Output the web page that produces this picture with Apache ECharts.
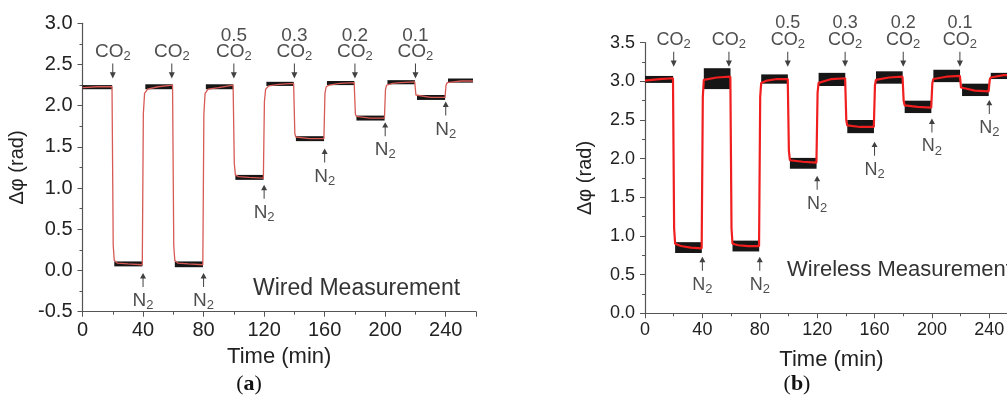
<!DOCTYPE html>
<html>
<head>
<meta charset="utf-8">
<script src="https://cdn.jsdelivr.net/npm/echarts@6/dist/echarts.min.js"></script>
<style>
  html, body { margin: 0; padding: 0; background: #fff; }
  #main { width: 1007px; height: 412px; }
</style>
</head>
<body>
<div id="main"></div>
<script>
// (a) wired measurement - smoothed (red) trace
var wiredTime  = [0, 10, 19.5, 20.3, 21, 23, 30, 39.5, 40.2, 41, 43, 50, 59.5, 60.3, 61, 63, 70, 79.5, 80.2, 81, 83, 90, 99.5,
                  100.3, 101, 103, 110, 119.5, 120.2, 121, 123, 130, 139.5, 140.3, 141, 150, 159.5, 160.2, 161, 163, 170, 179.5,
                  180.3, 181, 190, 199.5, 200.2, 201, 205, 210, 219.5, 220.3, 221, 230, 239.5, 240.2, 241, 250, 258];
var wiredPhase = [2.22, 2.23, 2.23, 0.3, 0.12, 0.09, 0.08, 0.07, 1.9, 2.15, 2.2, 2.23, 2.25, 0.3, 0.12, 0.09, 0.08, 0.07, 1.9, 2.15, 2.2, 2.22, 2.25,
                  1.3, 1.16, 1.14, 1.13, 1.12, 2.05, 2.2, 2.24, 2.26, 2.27, 1.66, 1.62, 1.6, 1.6, 2.15, 2.23, 2.25, 2.27, 2.28,
                  1.9, 1.87, 1.85, 1.85, 2.2, 2.25, 2.27, 2.28, 2.29, 2.13, 2.11, 2.1, 2.1, 2.25, 2.28, 2.3, 2.3];
// raw (black) noise envelope per plateau
var wiredBandStart = [0, 21, 41.5, 61, 81.5, 101, 121.5, 141, 161.5, 181, 201.5, 221, 241.5];
var wiredBandEnd   = [19.6, 39.6, 59.6, 79.6, 99.6, 119.6, 139.6, 159.6, 179.6, 199.6, 219.6, 239.6, 258];
var wiredBandLow   = [2.2, 0.05, 2.2, 0.04, 2.2, 1.1, 2.24, 1.57, 2.25, 1.82, 2.26, 2.07, 2.28];
var wiredBandHigh  = [2.25, 0.11, 2.26, 0.11, 2.26, 1.16, 2.29, 1.63, 2.3, 1.88, 2.31, 2.13, 2.33];
var wiredCo2Time  = [20, 59, 100, 140, 180, 220];
var wiredCo2Conc  = ['', '', '0.5', '0.3', '0.2', '0.1'];
var wiredCo2Tip   = [2.33, 2.33, 2.33, 2.33, 2.33, 2.33];
var wiredN2Time   = [40, 80, 120, 160, 200, 240];
var wiredN2Tip    = [-0.03, -0.03, 1.04, 1.48, 1.8, 2.05];

// (b) wireless measurement
var wirelessTime  = [0, 10, 19.5, 20.3, 21, 25, 32, 39.5, 40.3, 41, 50, 59.5, 60.3, 61, 65, 72, 79.5, 80.3, 81, 85, 92, 99.5,
                     100.3, 101, 110, 119.5, 120.3, 121, 130, 139.5, 140.3, 141, 150, 159.5, 160.3, 161, 170, 179.5,
                     180.3, 181, 190, 199.5, 200.3, 201, 210, 219.5, 220.3, 221, 230, 239.5, 240.3, 241, 250, 260];
var wirelessPhase = [3.01, 3.03, 3.04, 1.1, 0.9, 0.87, 0.85, 0.84, 2.8, 3.02, 3.05, 3.06, 1.1, 0.9, 0.88, 0.87, 0.87, 2.8, 2.98, 3.01, 3.03, 3.03,
                     2.1, 1.98, 1.96, 1.95, 2.85, 2.98, 3.03, 3.04, 2.5, 2.43, 2.41, 2.41, 2.95, 3.02, 3.05, 3.06,
                     2.75, 2.69, 2.67, 2.66, 2.98, 3.03, 3.06, 3.07, 2.92, 2.9, 2.88, 2.87, 3.02, 3.05, 3.08, 3.08];
var wirelessBandStart = [0, 21, 41, 61, 81, 101, 121, 141, 161, 181, 201, 221, 241];
var wirelessBandEnd   = [19.6, 39.6, 59.6, 79.6, 99.6, 119.6, 139.6, 159.6, 179.6, 199.6, 219.6, 239.6, 260];
var wirelessBandLow   = [2.98, 0.78, 2.9, 0.8, 2.97, 1.87, 2.94, 2.33, 2.97, 2.59, 2.99, 2.81, 3.03];
var wirelessBandHigh  = [3.07, 0.92, 3.17, 0.94, 3.09, 2.01, 3.11, 2.5, 3.13, 2.75, 3.15, 2.97, 3.11];
var wirelessCo2Time = [20, 58.5, 99.5, 139.5, 180, 219.5];
var wirelessCo2Conc = ['', '', '0.5', '0.3', '0.2', '0.1'];
var wirelessCo2Tip  = [3.19, 3.19, 3.19, 3.19, 3.19, 3.19];
var wirelessN2Time  = [40, 80, 120, 160, 200, 240];
var wirelessN2Tip   = [0.73, 0.73, 1.78, 2.22, 2.52, 2.76];

var FONT = 'Liberation Sans';
var TXT = '#222';
var ARROW_DOWN = 'path://M2.5,0 L3.5,0 L3.5,10 L6,10 L3,17 L0,10 L2.5,10 Z';
var ARROW_UP = 'path://M3,0 L6,7 L3.5,7 L3.5,18 L2.5,18 L2.5,7 L0,7 Z';

function pairs(xs, ys) {
    var out = [];
    for (var i = 0; i < xs.length; i++) out.push([xs[i], ys[i]]);
    return out;
}
function bands(s, e, lo, hi) {
    var out = [];
    for (var i = 0; i < s.length; i++) out.push([s[i], e[i], lo[i], hi[i]]);
    return out;
}
function marks(ts, tips, names) {
    var out = [];
    for (var i = 0; i < ts.length; i++) out.push({ value: [ts[i], tips[i]], name: names ? names[i] : '' });
    return out;
}

function renderBand(params, api) {
    var p1 = api.coord([api.value(0), api.value(3)]);
    var p2 = api.coord([api.value(1), api.value(2)]);
    return {
        type: 'rect',
        shape: { x: p1[0], y: p1[1], width: p2[0] - p1[0], height: p2[1] - p1[1] },
        style: { fill: '#161616' }
    };
}

function richFor(size) {
    return {
        t: { fontFamily: FONT, fontSize: size, color: TXT },
        s: { fontFamily: FONT, fontSize: Math.round(size * 0.7), color: TXT, padding: [9, 0, 0, 0] }
    };
}

function xAxisFor(idx, size, margin) {
    return {
        gridIndex: idx, type: 'value', min: 0, max: 260, interval: 40,
        name: 'Time (min)', nameLocation: 'middle', nameGap: idx === 0 ? 24 : 36,
        nameTextStyle: { fontFamily: FONT, fontSize: 22, color: TXT },
        axisLine: { onZero: false, lineStyle: { color: '#555', width: 1.2 } },
        axisTick: { inside: false, length: 5, lineStyle: { color: '#555' } },
        minorTick: { show: true, splitNumber: 2, length: 3, lineStyle: { color: '#555' } },
        axisLabel: { fontFamily: FONT, fontSize: size, color: TXT, margin: margin, showMaxLabel: false },
        splitLine: { show: false }
    };
}

function yAxisFor(idx, min, max, size, gap) {
    return {
        gridIndex: idx, type: 'value', min: min, max: max, interval: 0.5,
        name: 'Δφ (rad)', nameLocation: 'middle', nameGap: gap, nameRotate: 90,
        nameTextStyle: { fontFamily: FONT, fontSize: 20, color: TXT },
        axisLine: { show: true, lineStyle: { color: '#555', width: 1.2 } },
        axisTick: { inside: false, length: 5, lineStyle: { color: '#555' } },
        minorTick: { show: true, splitNumber: 2, length: 3, lineStyle: { color: '#555' } },
        axisLabel: { fontFamily: FONT, fontSize: size, color: TXT, margin: 10,
            formatter: function (v) { return v.toFixed(1); } },
        splitLine: { show: false }
    };
}

function co2Series(idx, data, size) {
    return {
        type: 'scatter', xAxisIndex: idx, yAxisIndex: idx, clip: false, z: 5,
        symbol: ARROW_DOWN, symbolSize: [6, 15], symbolOffset: [0, '-50%'],
        itemStyle: { color: '#111' },
        label: {
            show: true, position: 'top', distance: 1,
            formatter: function () { return '{t|CO}{s|2}'; },
            rich: richFor(size)
        },
        silent: true, data: data
    };
}

// concentration text above the CO2 label
function concSeries(idx, data, size, dist) {
    return {
        type: 'scatter', xAxisIndex: idx, yAxisIndex: idx, clip: false, z: 5,
        symbol: 'circle', symbolSize: 1,
        itemStyle: { color: 'rgba(0,0,0,0)' },
        label: {
            show: true, position: 'top', distance: dist,
            fontFamily: FONT, fontSize: size, color: TXT,
            formatter: function (p) { return p.name; }
        },
        silent: true, data: data
    };
}

function n2Series(idx, data, size) {
    return {
        type: 'scatter', xAxisIndex: idx, yAxisIndex: idx, clip: false, z: 5,
        symbol: ARROW_UP, symbolSize: [6, 14], symbolOffset: [0, '50%'],
        itemStyle: { color: '#111' },
        label: {
            show: true, position: 'bottom', distance: 3,
            formatter: function () { return '{t|N}{s|2}'; },
            rich: richFor(size)
        },
        silent: true, data: data
    };
}

var option = {
    backgroundColor: '#fff',
    animation: false,
    title: [
        { text: 'Wired Measurement', left: 248, top: 272,
          textStyle: { fontFamily: FONT, fontSize: 23, fontWeight: 'normal', color: '#333' } },
        { text: 'Wireless Measurement', left: 782, top: 254,
          textStyle: { fontFamily: FONT, fontSize: 22, fontWeight: 'normal', color: '#333' } },
        { text: '({b|a})', left: 244, top: 368, textAlign: 'center',
          textStyle: { fontFamily: 'Liberation Serif', fontSize: 22, fontWeight: 'normal', color: '#111',
              rich: { b: { fontFamily: 'Liberation Serif', fontSize: 22, fontWeight: 'bold', color: '#111' } } } },
        { text: '({b|b})', left: 792, top: 368, textAlign: 'center',
          textStyle: { fontFamily: 'Liberation Serif', fontSize: 22, fontWeight: 'normal', color: '#111',
              rich: { b: { fontFamily: 'Liberation Serif', fontSize: 22, fontWeight: 'bold', color: '#111' } } } }
    ],
    grid: [
        { left: 82.5, top: 23.3, width: 393.5, height: 288.4, outerBoundsMode: 'none' },
        { left: 645, top: 42.7, width: 373, height: 270.6, outerBoundsMode: 'none' }
    ],
    xAxis: [xAxisFor(0, 20, 9), xAxisFor(1, 18, 8)],
    yAxis: [yAxisFor(0, -0.5, 3.0, 20, 55), yAxisFor(1, 0, 3.5, 18, 50)],
    series: [
        {
            type: 'custom', xAxisIndex: 0, yAxisIndex: 0, renderItem: renderBand,
            encode: { x: [0, 1], y: [2, 3] }, silent: true, z: 2,
            data: bands(wiredBandStart, wiredBandEnd, wiredBandLow, wiredBandHigh)
        },
        {
            type: 'line', xAxisIndex: 0, yAxisIndex: 0, showSymbol: false, z: 3,
            lineStyle: { color: '#d65a55', width: 1.3 }, silent: true,
            data: pairs(wiredTime, wiredPhase)
        },
        co2Series(0, marks(wiredCo2Time, wiredCo2Tip), 19),
        concSeries(0, marks(wiredCo2Time, wiredCo2Tip, wiredCo2Conc), 19, 33),
        n2Series(0, marks(wiredN2Time, wiredN2Tip), 19),
        {
            type: 'custom', xAxisIndex: 1, yAxisIndex: 1, renderItem: renderBand,
            encode: { x: [0, 1], y: [2, 3] }, silent: true, z: 2,
            data: bands(wirelessBandStart, wirelessBandEnd, wirelessBandLow, wirelessBandHigh)
        },
        {
            type: 'line', xAxisIndex: 1, yAxisIndex: 1, showSymbol: false, z: 3,
            lineStyle: { color: '#f01e1e', width: 2.2 }, silent: true,
            data: pairs(wirelessTime, wirelessPhase)
        },
        co2Series(1, marks(wirelessCo2Time, wirelessCo2Tip), 18),
        concSeries(1, marks(wirelessCo2Time, wirelessCo2Tip, wirelessCo2Conc), 18, 34),
        n2Series(1, marks(wirelessN2Time, wirelessN2Tip), 18)
    ]
};

var chart = echarts.init(document.getElementById('main'));
chart.setOption(option);
</script>
</body>
</html>
